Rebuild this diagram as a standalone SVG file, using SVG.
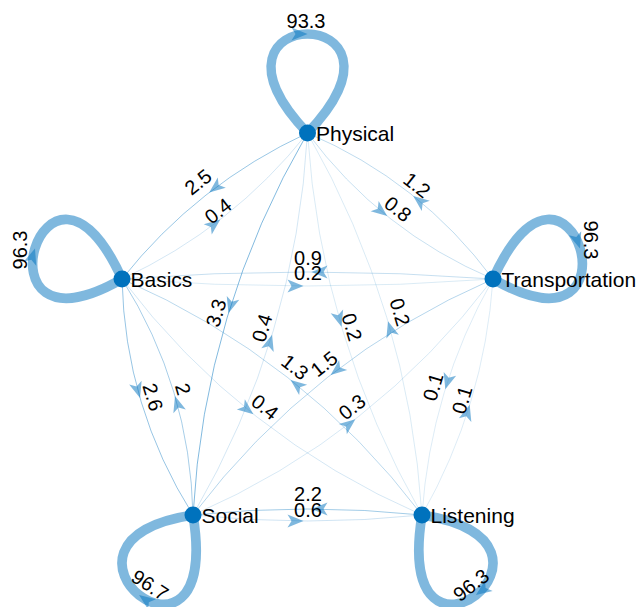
<svg xmlns="http://www.w3.org/2000/svg" xmlns:xlink="http://www.w3.org/1999/xlink" width="644" height="607" viewBox="0 0 644 607">
<style>
.e{fill:none;stroke:#0072BD;stroke-opacity:0.5}
.loop{fill:none;stroke:#0072BD;stroke-opacity:0.5}
.ah{fill:#0072BD;fill-opacity:0.5}
.nd{fill:#0072BD}
.nl{font-family:"Liberation Sans",Arial,sans-serif;font-size:21px;fill:#000}
.el{font-family:"Liberation Sans",Arial,sans-serif;font-size:20px;fill:#000;text-anchor:middle;dominant-baseline:central}
</style>
<defs>
<path id="arr" d="M0,0 L-16,-6.5 L-12,0 L-16,6.5 Z"/>
</defs>
<rect width="644" height="607" fill="#fff"/>
<g id="connectors">
<path class="loop" stroke-width="9.33" d="M307.5,133 C181.2,1 433.8,1 307.5,133"/>
<path class="loop" stroke-width="9.63" d="M122,279 C-33,368.1 44.9,108.2 122,279"/>
<path class="loop" stroke-width="9.63" d="M493,279 C570.1,108.2 648,368.1 493,279"/>
<path class="loop" stroke-width="9.67" d="M193,515 C223.4,702.2 19,541.4 193,515"/>
<path class="loop" stroke-width="9.63" d="M422,515 C596,541.4 391.6,702.2 422,515"/>
<path class="e" stroke-width="0.8" d="M307.5,133 Q197.4,184 122,279"/>
<path class="e" stroke-width="0.34" d="M122,279 Q232.1,228 307.5,133"/>
<path class="e" stroke-width="0.43" d="M307.5,133 Q380.5,231.2 493,279"/>
<path class="e" stroke-width="0.51" d="M493,279 Q420,180.8 307.5,133"/>
<path class="e" stroke-width="0.29" d="M122,279 Q307.5,293 493,279"/>
<path class="e" stroke-width="0.45" d="M493,279 Q307.5,265 122,279"/>
<path class="e" stroke-width="0.82" d="M122,279 Q124.9,406.8 193,515"/>
<path class="e" stroke-width="0.69" d="M193,515 Q190.1,387.2 122,279"/>
<path class="e" stroke-width="0.38" d="M193,515 Q307.5,527 422,515"/>
<path class="e" stroke-width="0.73" d="M422,515 Q307.5,503 193,515"/>
<path class="e" stroke-width="0.98" d="M307.5,133 Q204.3,310.2 193,515"/>
<path class="e" stroke-width="0.34" d="M193,515 Q296.2,337.8 307.5,133"/>
<path class="e" stroke-width="0.29" d="M307.5,133 Q320.7,337.2 422,515"/>
<path class="e" stroke-width="0.29" d="M422,515 Q408.8,310.8 307.5,133"/>
<path class="e" stroke-width="0.34" d="M122,279 Q241.1,436.3 422,515"/>
<path class="e" stroke-width="0.54" d="M422,515 Q302.9,357.7 122,279"/>
<path class="e" stroke-width="0.58" d="M493,279 Q312.1,357.7 193,515"/>
<path class="e" stroke-width="0.32" d="M193,515 Q373.9,436.3 493,279"/>
<path class="e" stroke-width="0.27" d="M493,279 Q430.7,388.9 422,515"/>
<path class="e" stroke-width="0.27" d="M422,515 Q484.3,405.1 493,279"/>
<g class="ah">
<use xlink:href="#arr" transform="translate(307.5,34)"/>
<use xlink:href="#arr" transform="translate(35,248.4) rotate(-72)"/>
<use xlink:href="#arr" transform="translate(580,248.4) rotate(72)"/>
<use xlink:href="#arr" transform="translate(139.1,595.1) rotate(216)"/>
<use xlink:href="#arr" transform="translate(475.9,595.1) rotate(144)"/>
<use xlink:href="#arr" transform="translate(209.2,192.5) rotate(141.8)"/>
<use xlink:href="#arr" transform="translate(220.3,219.5) rotate(-38.2)"/>
<use xlink:href="#arr" transform="translate(387.2,216.1) rotate(38.2)"/>
<use xlink:href="#arr" transform="translate(413.2,195.9) rotate(218.2)"/>
<use xlink:href="#arr" transform="translate(303.5,286)"/>
<use xlink:href="#arr" transform="translate(311.5,272) rotate(180)"/>
<use xlink:href="#arr" transform="translate(140,398) rotate(73.3)"/>
<use xlink:href="#arr" transform="translate(175,396) rotate(253.3)"/>
<use xlink:href="#arr" transform="translate(303.5,521)"/>
<use xlink:href="#arr" transform="translate(311.5,509) rotate(180)"/>
<use xlink:href="#arr" transform="translate(228.4,313.3) rotate(106.7)"/>
<use xlink:href="#arr" transform="translate(272.1,334.7) rotate(-73.3)"/>
<use xlink:href="#arr" transform="translate(341.5,326.8) rotate(73.3)"/>
<use xlink:href="#arr" transform="translate(388,321.2) rotate(253.3)"/>
<use xlink:href="#arr" transform="translate(253.4,414.2) rotate(38.2)"/>
<use xlink:href="#arr" transform="translate(290.6,379.9) rotate(218.2)"/>
<use xlink:href="#arr" transform="translate(330.6,374.9) rotate(141.8)"/>
<use xlink:href="#arr" transform="translate(355.4,419.2) rotate(-38.2)"/>
<use xlink:href="#arr" transform="translate(445.3,389.2) rotate(106.7)"/>
<use xlink:href="#arr" transform="translate(469.7,404.8) rotate(-73.3)"/>
</g>
<g id="edge-labels">
<text class="el" x="306" y="21">93.3</text>
<text class="el" transform="translate(19.5,250) rotate(-90)">96.3</text>
<text class="el" transform="translate(591,240) rotate(90)">96.3</text>
<text class="el" transform="translate(150,585) rotate(33)">96.7</text>
<text class="el" transform="translate(471,585) rotate(-38)">96.3</text>
<text class="el" transform="translate(198,182) rotate(-38.2)">2.5</text>
<text class="el" transform="translate(218,211) rotate(-38.2)">0.4</text>
<text class="el" transform="translate(398,209) rotate(38.2)">0.8</text>
<text class="el" transform="translate(417,185) rotate(38.2)">1.2</text>
<text class="el" x="308" y="273">0.2</text>
<text class="el" x="308" y="258">0.9</text>
<text class="el" transform="translate(153,397) rotate(73.3)">2.6</text>
<text class="el" transform="translate(183,389) rotate(73.3)">2</text>
<text class="el" x="308" y="510">0.6</text>
<text class="el" x="308" y="494">2.2</text>
<text class="el" transform="translate(216,313) rotate(-73.3)">3.3</text>
<text class="el" transform="translate(262,328) rotate(-73.3)">0.4</text>
<text class="el" transform="translate(352,327) rotate(73.3)">0.2</text>
<text class="el" transform="translate(400,312) rotate(73.3)">0.2</text>
<text class="el" transform="translate(265,407) rotate(38.2)">0.4</text>
<text class="el" transform="translate(295,367) rotate(38.2)">1.3</text>
<text class="el" transform="translate(324,364) rotate(-38.2)">1.5</text>
<text class="el" transform="translate(352,407) rotate(-38.2)">0.3</text>
<text class="el" transform="translate(433,387) rotate(-73.3)">0.1</text>
<text class="el" transform="translate(462,400) rotate(-73.3)">0.1</text>
</g>
</g>
<g id="node-physical"><circle class="nd" cx="307.5" cy="133" r="8.5"/><text class="nl" x="316" y="140.5">Physical</text></g>
<g id="node-basics"><circle class="nd" cx="122" cy="279" r="8.5"/><text class="nl" x="130.5" y="286.5">Basics</text></g>
<g id="node-transportation"><circle class="nd" cx="493" cy="279" r="8.5"/><text class="nl" x="501.5" y="286.5">Transportation</text></g>
<g id="node-social"><circle class="nd" cx="193" cy="515" r="8.5"/><text class="nl" x="201.5" y="522.5">Social</text></g>
<g id="node-listening"><circle class="nd" cx="422" cy="515" r="8.5"/><text class="nl" x="430.5" y="522.5">Listening</text></g>
</svg>
